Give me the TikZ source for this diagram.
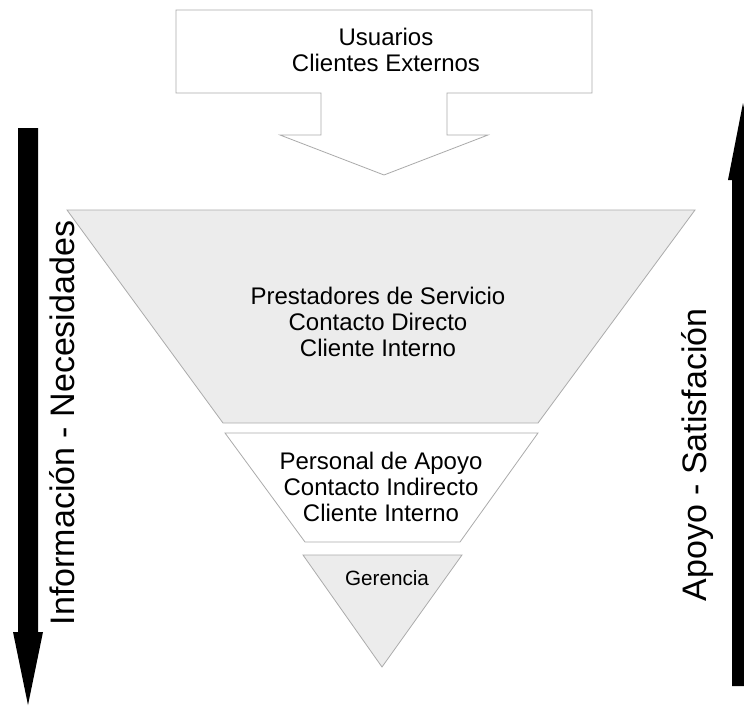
\documentclass[tikz,border=0pt]{standalone}
\usepackage{fontspec}
\setmainfont{Liberation Sans}
\usepackage{xcolor}
\usetikzlibrary{calc}
\definecolor{levelfill}{HTML}{ECECEC}
\definecolor{levelline}{HTML}{ABABAB}
\tikzset{
    level/.style={draw=levelline, line width=0.6pt},
    levellabel/.style={align=center, font=\fontsize{18}{19.5}\selectfont},
    sidelabel/.style={font=\fontsize{25.5}{27}\selectfont, rotate=90},
    flowarrow/.style={fill=black}
}

\begin{document}
\begin{tikzpicture}[x=0.75pt, y=-0.75pt]
    \useasboundingbox (0,0) rectangle (744,707);
    \clip (0,0) rectangle (744,707);

    % Users with callout arrow
    \draw[level, fill=white] (176,10) -- (592,10) -- (592,93) -- (447,93) -- (447,135)
        -- (488,135) -- (384,175) -- (280,135) -- (321,135) -- (321,93) -- (176,93) -- cycle;
    \node[levellabel] (usuarios) at (386,50) {Usuarios\\Clientes Externos};

    % Inverted pyramid
    \draw[level, fill=levelfill] (67,210) -- (695,210) -- (538,423) -- (223,423) -- cycle;
    \node[levellabel] (prestadores) at (378,322) {Prestadores de Servicio\\Contacto Directo\\Cliente Interno};

    \draw[level, fill=white] (225,433) -- (538,433) -- (460,542) -- (305,542) -- cycle;
    \node[levellabel] (personal) at (381,487) {Personal de Apoyo\\Contacto Indirecto\\Cliente Interno};

    \draw[level, fill=levelfill] (303,555) -- (462,555) -- (382,667) -- cycle;
    \node[levellabel, font=\fontsize{15.5}{17}\selectfont] (gerencia) at (387,578) {Gerencia};

    % Side arrows
    \fill[flowarrow] (18,128) -- (38,128) -- (38,632) -- (43,632) -- (28,705) -- (13,632) -- (18,632) -- cycle;
    \node[sidelabel] (necesidades) at (62,423) {Información - Necesidades};

    \fill[flowarrow] (732,686) -- (754,686) -- (754,180) -- (758,180) -- (743,103) -- (728,180) -- (732,180) -- cycle;
    \node[sidelabel] (satisfacion) at (698,455) {Apoyo - Satisfación};
\end{tikzpicture}
\end{document}
